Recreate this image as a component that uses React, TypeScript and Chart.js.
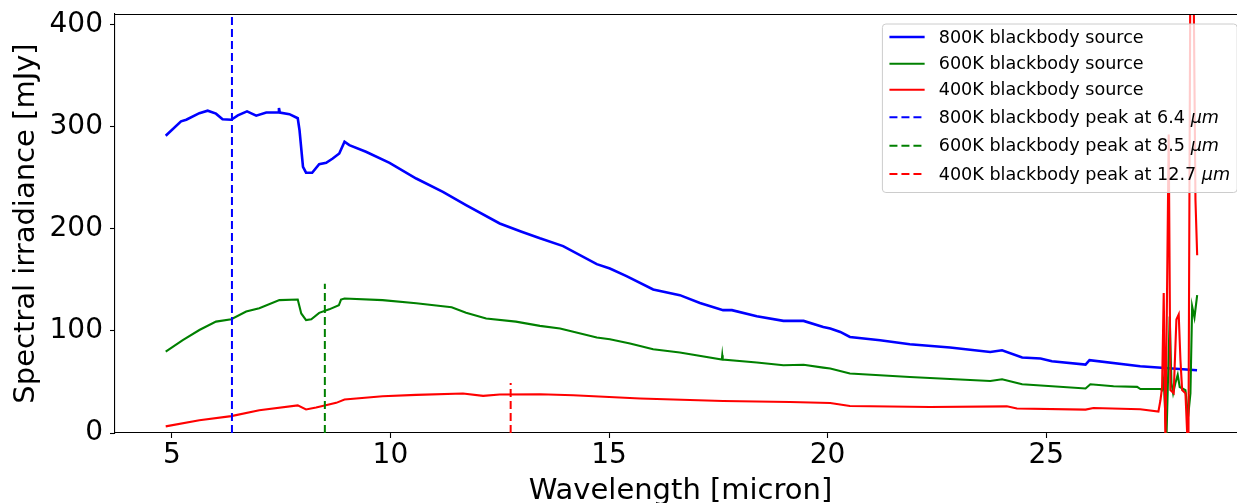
import React, { useEffect, useRef } from "react";
import { Chart, registerables } from "chart.js";

Chart.register(...registerables);

// ---------- data ----------
const wl800 = [4.86, 5.21, 5.33, 5.63, 5.82, 6.01, 6.16, 6.36, 6.51, 6.72, 6.93, 7.16, 7.44, 7.45, 7.47, 7.69, 7.88, 7.92, 8.0, 8.07, 8.21, 8.37, 8.53, 8.68, 8.83, 8.95, 9.06, 9.44, 9.98, 10.59, 11.2, 11.73, 12.5, 13.0, 13.42, 13.95, 14.72, 15.02, 15.4, 16.01, 16.62, 17.08, 17.61, 17.81, 18.38, 18.99, 19.45, 19.9, 20.06, 20.29, 20.51, 21.2, 21.88, 22.8, 23.72, 23.99, 24.45, 24.87, 25.13, 25.9, 25.99, 27.15, 28.45];
const flux800 = [290.8, 305, 306.6, 313, 315.4, 312.5, 307, 306.5, 310.8, 314.7, 310.5, 313.6, 313.6, 318, 313.6, 312, 308, 296.5, 260.5, 254.7, 254.7, 263, 264.4, 268.6, 273.5, 285, 281.7, 275.2, 264.4, 249, 236, 223, 205, 197, 190.5, 182.9, 165.2, 161, 153.5, 140.4, 134.9, 127.3, 120.2, 120.2, 114.3, 109.7, 109.7, 103.8, 102.2, 98.9, 94, 90.8, 86.9, 83.6, 79.3, 81, 73.8, 72.9, 70.2, 67, 71.2, 65.3, 61.4];

const wl600 = [4.86, 5.25, 5.63, 6.01, 6.36, 6.7, 7.0, 7.46, 7.88, 7.96, 8.07, 8.19, 8.37, 8.6, 8.82, 8.87, 8.95, 9.82, 10.59, 11.4, 11.73, 12.19, 12.87, 13.42, 13.88, 14.72, 15.02, 15.48, 16.01, 16.62, 17.58, 17.59, 17.6, 18.38, 18.99, 19.45, 19.9, 20.06, 20.51, 21.88, 23.72, 23.99, 24.45, 25.9, 26.01, 26.54, 27.08, 27.155, 27.613, 27.651, 27.688, 27.75, 27.825, 27.864, 27.903, 27.955, 28.008, 28.054, 28.185, 28.246, 28.299, 28.338, 28.391, 28.453];
const flux600 = [79.6, 90.9, 100.8, 109, 111.3, 118.8, 122, 130, 130.6, 117, 110.5, 111.3, 117.6, 121, 125, 130.6, 131.6, 130, 127, 123, 117.6, 112, 109, 104.8, 102.3, 93.4, 91.8, 87.6, 82, 78.7, 71.9, 76, 71.9, 69, 66.3, 66.8, 64, 63.1, 58.2, 54.8, 50.9, 52.6, 47.7, 43.5, 47.7, 45.7, 45.1, 43, 43, 42, 52, -5, 114, 49, 39, 49, 57, 45, 42, 16, 39, 124, 113, 135];

const wl400 = [4.86, 5.63, 6.36, 7.0, 7.88, 8.07, 8.3, 8.76, 8.95, 9.82, 10.59, 11.66, 12.12, 12.5, 13.42, 14.18, 15.71, 17.61, 19.14, 20.06, 20.51, 22.34, 24.1, 24.33, 25.9, 26.08, 27.15, 27.567, 27.613, 27.651, 27.688, 27.727, 27.802, 27.841, 27.916, 27.978, 28.031, 28.07, 28.109, 28.185, 28.223, 28.253, 28.32, 28.414, 28.453];
const flux400 = [6.5, 12.5, 16.5, 22.3, 27, 23, 25, 29.5, 32.8, 36, 37.3, 38.6, 36.3, 37.6, 37.9, 36.9, 33.7, 31.3, 30.4, 29.4, 26.4, 25.5, 26.1, 23.9, 22.9, 24.5, 23.2, 21, 32, 45, 137, -10, 292, 42, 39, 111, 116, 72, 42, 39, 1, -15, 700, 228, 174];

const peakWl = [6.375, 8.5, 12.75];
const peakTop = [450, 146, 49];

const seriesLabels = ["800K blackbody source", "600K blackbody source", "400K blackbody source"];
const peakLabels = ["800K blackbody peak at 6.4 μm", "600K blackbody peak at 8.5 μm", "400K blackbody peak at 12.7 μm"];

const xTicks = [5, 10, 15, 20, 25];
const yTicks = [0, 100, 200, 300, 400];

const xLabel = "Wavelength [micron]";
const yLabel = "Spectral irradiance [mJy]";

// ---------- styles ----------
const COLORS = ["#0000ff", "#008000", "#ff0000"];
const SOLID_WIDTH = [2.6, 2.1, 2.1];
const DASH = [8, 4];
const FAMILY = '"DejaVu Sans", sans-serif';

const toPoints = (xs: number[], ys: number[]) => xs.map((x, i) => ({ x, y: ys[i] }));

const datasets: any[] = [
  ...[
    [wl800, flux800],
    [wl600, flux600],
    [wl400, flux400],
  ].map(([xs, ys], i) => ({
    label: seriesLabels[i],
    data: toPoints(xs, ys),
    borderColor: COLORS[i],
    backgroundColor: COLORS[i],
    borderWidth: SOLID_WIDTH[i],
    pointRadius: 0,
    fill: false,
    tension: 0,
    order: 10 - i,
  })),
  ...peakWl.map((w, i) => ({
    label: peakLabels[i],
    data: [
      { x: w, y: 0 },
      { x: w, y: peakTop[i] },
    ],
    borderColor: COLORS[i],
    backgroundColor: COLORS[i],
    borderWidth: 2,
    borderDash: DASH,
    pointRadius: 0,
    fill: false,
    tension: 0,
    order: 5 - i,
  })),
];

const legendItems = [...seriesLabels, ...peakLabels].map((label, i) => ({
  label,
  color: COLORS[i % 3],
  dashed: i >= 3,
  width: i >= 3 ? 2 : SOLID_WIDTH[i % 3],
}));

const framePlugin = {
  id: "frame",
  afterDraw(chart: any) {
    const { ctx, chartArea: ca } = chart;
    ctx.save();
    ctx.strokeStyle = "#000";
    ctx.lineWidth = 1.1;
    ctx.beginPath();
    ctx.moveTo(ca.left, Math.round(ca.top) + 0.5);
    ctx.lineTo(ca.right, Math.round(ca.top) + 0.5);
    ctx.stroke();
    ctx.restore();
  },
};

const legendPlugin = {
  id: "mplLegend",
  afterDraw(chart: any) {
    const { ctx, chartArea: ca } = chart;
    const fs = 17.6;
    const normal = `${fs}px ${FAMILY}`;
    const italic = `italic ${fs}px ${FAMILY}`;
    ctx.save();
    const parts = legendItems.map((it) =>
      it.label.endsWith("μm") ? [it.label.slice(0, -2), "μm"] : [it.label, ""]
    );
    const widths = parts.map(([a, b]) => {
      ctx.font = normal;
      const wa = ctx.measureText(a).width;
      ctx.font = italic;
      const wb = b ? ctx.measureText(b).width : 0;
      return wa + wb;
    });
    const maxW = Math.max(...widths);
    const pad = 0.4 * fs;
    const handle = 2 * fs;
    const gap = 0.8 * fs;
    const boxW = pad + handle + gap + maxW + pad;
    const right = ca.right - 0.5 * fs;
    const left = right - boxW;
    const top = ca.top + 10;
    const bottom = ca.top + 178.5;
    const r = 3.5;
    ctx.beginPath();
    ctx.moveTo(left + r, top);
    ctx.lineTo(right - r, top);
    ctx.quadraticCurveTo(right, top, right, top + r);
    ctx.lineTo(right, bottom - r);
    ctx.quadraticCurveTo(right, bottom, right - r, bottom);
    ctx.lineTo(left + r, bottom);
    ctx.quadraticCurveTo(left, bottom, left, bottom - r);
    ctx.lineTo(left, top + r);
    ctx.quadraticCurveTo(left, top, left + r, top);
    ctx.closePath();
    ctx.fillStyle = "rgba(255,255,255,0.8)";
    ctx.fill();
    ctx.strokeStyle = "#cccccc";
    ctx.lineWidth = 1;
    ctx.stroke();

    const rowOffsets = [14, 40.7, 66.7, 94.3, 122.7, 151];
    legendItems.forEach((it, i) => {
      const cy = top + rowOffsets[i];
      ctx.save();
      ctx.strokeStyle = it.color;
      ctx.lineWidth = it.width;
      ctx.setLineDash(it.dashed ? DASH : []);
      ctx.beginPath();
      ctx.moveTo(left + pad, cy - 1);
      ctx.lineTo(left + pad + handle, cy - 1);
      ctx.stroke();
      ctx.restore();
      const tx = left + pad + handle + gap;
      const [a, b] = parts[i];
      ctx.fillStyle = "#000";
      ctx.textBaseline = "middle";
      ctx.textAlign = "left";
      ctx.font = normal;
      ctx.fillText(a, tx, cy);
      if (b) {
        const wa = ctx.measureText(a).width;
        ctx.font = italic;
        ctx.fillText(b, tx + wa, cy);
      }
    });
    ctx.restore();
  },
};

const tickFont = { family: FAMILY, size: 28 };
const titleFont = { family: FAMILY, size: 29, lineHeight: 1.2 };

export default function App() {
  const ref = useRef<HTMLCanvasElement>(null);
  useEffect(() => {
    if (!ref.current) return;
    const chart = new Chart(ref.current, {
      type: "line",
      data: { datasets },
      options: {
        animation: false,
        responsive: false,
        maintainAspectRatio: false,
        devicePixelRatio: 1,
        layout: { padding: { top: 14, left: 0, right: 0, bottom: 0 } },
        plugins: {
          legend: { display: false },
          tooltip: { enabled: false },
        },
        elements: { point: { radius: 0 }, line: { tension: 0 } },
        scales: {
          x: {
            type: "linear",
            min: 3.7,
            max: 29.57,
            afterBuildTicks: (s: any) => {
              s.ticks = xTicks.map((v) => ({ value: v }));
            },
            afterFit: (s: any) => {
              s.height = 70;
              s.paddingLeft = 0;
              s.paddingRight = 0;
            },
            ticks: { font: tickFont, color: "#000", padding: 1, maxRotation: 0, autoSkip: false },
            grid: { drawOnChartArea: false, drawTicks: true, tickLength: 5, tickColor: "#000", tickWidth: 1.1 },
            border: { display: true, color: "#000", width: 1.1 },
            title: { display: true, text: xLabel, font: titleFont, color: "#000", padding: { top: 0, bottom: -5.4 } },
          },
          y: {
            type: "linear",
            min: 0,
            max: 410,
            afterBuildTicks: (s: any) => {
              s.ticks = yTicks.map((v) => ({ value: v }));
            },
            afterFit: (s: any) => {
              s.width = 115;
              s.paddingTop = 0;
              s.paddingBottom = 0;
            },
            ticks: { font: tickFont, color: "#000", padding: 7, autoSkip: false },
            grid: { drawOnChartArea: false, drawTicks: true, tickLength: 5, tickColor: "#000", tickWidth: 1.1 },
            border: { display: true, color: "#000", width: 1.1 },
            title: { display: true, text: yLabel, font: titleFont, color: "#000", padding: { top: 8.6, bottom: 0 } },
          },
        },
      } as any,
      plugins: [framePlugin, legendPlugin],
    });
    return () => chart.destroy();
  }, []);
  return (
    <div
      style={{
        position: "fixed",
        left: 0,
        top: 0,
        width: 1237,
        height: 503,
        overflow: "hidden",
        background: "#fff",
      }}
    >
      <canvas ref={ref} width={1246} height={503} style={{ display: "block", width: 1246, height: 503 }} />
    </div>
  );
}
